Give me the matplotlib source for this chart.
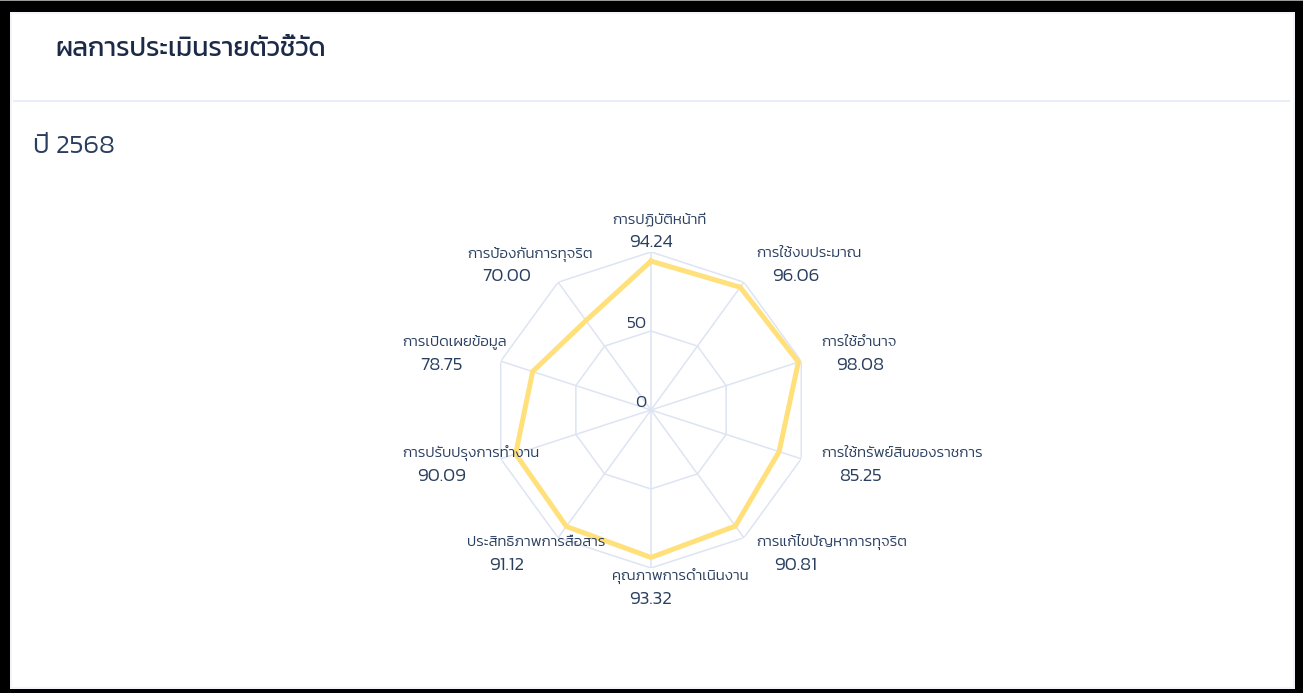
import numpy as np
import matplotlib
matplotlib.use("Agg")
import matplotlib.pyplot as plt
from matplotlib.patches import Rectangle

# ---------------- data ----------------
categories = [
    "การปฏิบัติหน้าที่",
    "การใช้งบประมาณ",
    "การใช้อำนาจ",
    "การใช้ทรัพย์สินของราชการ",
    "การแก้ไขปัญหาการทุจริต",
    "คุณภาพการดำเนินงาน",
    "ประสิทธิภาพการสื่อสาร",
    "การปรับปรุงการทำงาน",
    "การเปิดเผยข้อมูล",
    "การป้องกันการทุจริต",
]
scores = [94.24, 96.06, 98.08, 85.25, 90.81, 93.32, 91.12, 90.09, 78.75, 70.00]
radial_ticks = [0, 50, 100]
radial_tick_labels = ["0", "50", ""]
title_text = "ผลการประเมินรายตัวชี้วัด"
year_text = "ปี 2568"

# ---------------- style ----------------
FONT = ["Kanit", "DejaVu Sans"]
TXT = "#2a3f5f"
TITLE_C = "#1b2a47"
GRID = "#dde4f2"
LINE = "#ffe07a"

W, H = 1303, 693
fig = plt.figure(figsize=(W / 100, H / 100), dpi=100, facecolor="black")

def fx(px):
    return px / W

def fy(py):
    return 1 - py / H

# top thin grey strip
fig.patches.append(Rectangle((0, fy(1.2)), 1, 1.2 / H, transform=fig.transFigure,
                             facecolor="#9a9a9a", edgecolor="none", zorder=0))
# white panel
px0, py0, px1, py1 = 10, 12, 1295, 689
fig.patches.append(Rectangle((fx(px0), fy(py1)), fx(px1 - px0), (py1 - py0) / H,
                             transform=fig.transFigure, facecolor="#f3f3fc",
                             edgecolor="none", zorder=0))
fig.patches.append(Rectangle((fx(px0 + 2), fy(py1 - 2)), fx(px1 - px0 - 4), (py1 - py0 - 4) / H,
                             transform=fig.transFigure, facecolor="white",
                             edgecolor="none", zorder=0))
# header separator
fig.patches.append(Rectangle((fx(13), fy(102)), fx(1277), 2.2 / H,
                             transform=fig.transFigure, facecolor="#e8edf8",
                             edgecolor="none", zorder=1))

fig.text(fx(55), fy(50), title_text, family=FONT, fontsize=19.2, weight=400,
         color=TITLE_C, ha="left", va="center")
fig.text(fx(33), fy(147), year_text, family=FONT, fontsize=19.5, weight=300,
         color=TXT, ha="left", va="center")

# ---------------- polar ----------------
cx, cy, R = 651, 410, 158
ax = fig.add_axes([fx(cx - R), fy(cy + R), 2 * R / W, 2 * R / H], projection="polar")
ax.set_zorder(5)
ax.set_theta_zero_location("N")
ax.set_theta_direction(-1)
ax.set_ylim(0, 100)
ax.set_facecolor("none")
ax.patch.set_visible(False)
ax.grid(False)
ax.spines["polar"].set_visible(False)
ax.set_xticks([])
ax.set_yticks([])

n = len(categories)
theta = np.arange(n) * 2 * np.pi / n
theta_closed = np.append(theta, theta[0])

for rt in radial_ticks[1:]:
    ax.plot(theta_closed, [rt] * (n + 1), color=GRID, lw=1.1, zorder=1)
for t in theta:
    ax.plot([t, t], [0, radial_ticks[-1]], color=GRID, lw=1.1, zorder=1)

vals = np.append(scores, scores[0])
ax.plot(theta_closed, vals, color=LINE, lw=3.6, zorder=3, solid_joinstyle="miter")

for rt, lab in zip(radial_ticks, radial_tick_labels):
    if lab:
        ax.annotate(lab, xy=(0, rt), xycoords="data", xytext=(-5, 7),
                    textcoords="offset pixels", ha="right", va="center",
                    family=FONT, fontsize=12.5, weight=300, color=TXT, zorder=5,
                    annotation_clip=False)

r_lab = radial_ticks[-1] * 178 / R
for t, name, v in zip(theta, categories, scores):
    s = np.sin(t)
    side = 0 if abs(s) < 1e-6 else np.sign(s)
    dxv = side * 40
    ax.annotate(f"{v:.2f}", xy=(t, r_lab), xycoords="data", xytext=(dxv, -11),
                textcoords="offset pixels", ha="center", va="center",
                family=FONT, fontsize=13.5, weight=300, color=TXT,
                annotation_clip=False)
    ax.annotate(name, xy=(t, r_lab), xycoords="data", xytext=(dxv - 39, 12),
                textcoords="offset pixels", ha="left", va="center",
                family=FONT, fontsize=10.9, weight=300, color=TXT,
                annotation_clip=False)

fig.savefig("out.png", dpi=100, facecolor="black")
